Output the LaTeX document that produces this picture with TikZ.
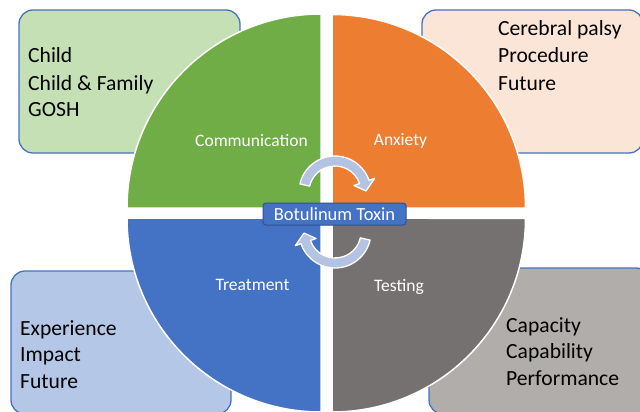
\documentclass[tikz,border=0pt]{standalone}
\usepackage{fontspec}
\setmainfont{Carlito}
\definecolor{qgreen}{HTML}{70AD47}
\definecolor{qorange}{HTML}{ED7D31}
\definecolor{qblue}{HTML}{4472C4}
\definecolor{qgray}{HTML}{767171}
\definecolor{lgreen}{HTML}{C5E0B4}
\definecolor{lorange}{HTML}{FBE5D6}
\definecolor{lblue}{HTML}{B4C7E7}
\definecolor{lgray}{HTML}{B1ADAB}
\definecolor{boxedge}{HTML}{4472C4}
\definecolor{arrowfill}{HTML}{B4C3E2}
\definecolor{darkblue}{HTML}{2F528F}
\tikzset{
  sidebox/.style={draw=boxedge, line width=1.3pt, rounded corners=14pt},
  quad/.style={draw=white, line width=1.5pt},
  boxtext/.style={anchor=base west, inner sep=0pt, font=\fontsize{21.6}{26}\selectfont, text=black},
  quadlabel/.style={anchor=base, inner sep=0pt, font=\fontsize{17.5}{20}\selectfont, text=white},
  cyclearrow/.style={fill=arrowfill, draw=white, line width=1.3pt, line join=round},
  centerbox/.style={fill=qblue, draw=darkblue, line width=1pt, rounded corners=3pt,
    minimum width=143pt, minimum height=22pt, inner sep=0pt, text=white,
    font=\fontsize{18.5}{20}\selectfont}
}
\begin{document}
\begin{tikzpicture}[x=1pt,y=1pt]
\useasboundingbox (0,0) rectangle (640,-412);
\clip (0,0) rectangle (640,-412);
\fill[white] (0,0) rectangle (640,-412);
% side boxes
\draw[sidebox, fill=lgreen] (19,-10) rectangle (240,-153);
\draw[sidebox, fill=lorange] (422,-10) rectangle (643,-153);
\draw[sidebox, fill=lblue] (11,-271) rectangle (231,-414);
\draw[sidebox, fill=lgray] (429,-268) rectangle (650,-414);
% box texts
\node[boxtext] (g1) at (28,-63) {Child};
\node[boxtext] (g2) at (28,-90) {Child \& Family};
\node[boxtext] (g3) at (28,-117) {GOSH};
\node[boxtext] (o1) at (498,-36) {Cerebral palsy};
\node[boxtext] (o2) at (498,-63) {Procedure};
\node[boxtext] (o3) at (498,-90) {Future};
\node[boxtext] (b1) at (20,-335) {Experience};
\node[boxtext] (b2) at (20,-361) {Impact};
\node[boxtext] (b3) at (20,-388) {Future};
\node[boxtext] (r1) at (506,-332) {Capacity};
\node[boxtext] (r2) at (506,-358) {Capability};
\node[boxtext] (r3) at (506,-385) {Performance};
% quadrants
\draw[quad, fill=qgreen] (321,-208) -- (321,-14) arc[start angle=90, end angle=180, radius=194] -- cycle;
\draw[quad, fill=qorange] (332,-208) -- (525.5,-208) arc[start angle=0, end angle=90, radius=193.5] -- cycle;
\draw[quad, fill=qblue] (321,-218) -- (127,-218) arc[start angle=180, end angle=270, radius=194] -- cycle;
\draw[quad, fill=qgray] (332,-218) -- (332,-412) arc[start angle=270, end angle=360, radius=193.5] -- cycle;
% quadrant labels
\node[quadlabel] (lc) at (251.5,-146.5) {Communication};
\node[quadlabel] (la) at (400.5,-145) {Anxiety};
\node[quadlabel] (lt) at (252.5,-290.5) {Treatment};
\node[quadlabel] (ls) at (399,-291) {Testing};
% cycle arrows
\begin{scope}[shift={(335,-192)}]
\draw[cyclearrow] (167:36) arc[start angle=167, end angle=19, radius=36] -- (19:42) -- (2:31) -- (19:20) -- (19:26) arc[start angle=19, end angle=167, radius=26] -- cycle;
\end{scope}
\begin{scope}[shift={(335,-232)}, rotate=180]
\draw[cyclearrow] (167:36) arc[start angle=167, end angle=19, radius=36] -- (19:42) -- (2:31) -- (19:20) -- (19:26) arc[start angle=19, end angle=167, radius=26] -- cycle;
\end{scope}
% center
\node[centerbox] (bt) at (334.5,-214) {Botulinum Toxin};
\end{tikzpicture}
\end{document}
